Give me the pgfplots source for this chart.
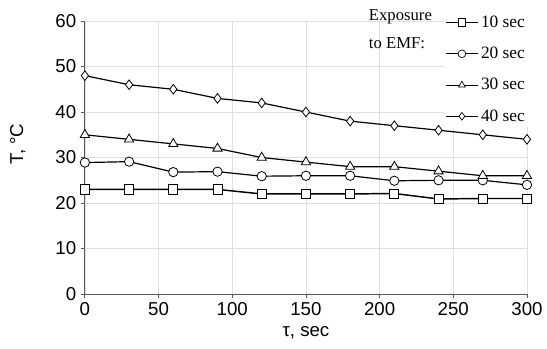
\documentclass[border=0pt]{standalone}
\usepackage{pgfplots}
\pgfplotsset{compat=1.18}
\usepackage{fontspec}
\setmainfont{Liberation Sans}
\newfontfamily\serifont{Liberation Serif}
\begin{document}
\begin{tikzpicture}
\begin{axis}[
  scale only axis,
  width=331.5pt, height=204.75pt,
  xmin=0, xmax=300, ymin=0, ymax=60,
  xtick={0,50,...,300}, ytick={0,10,...,60},
  axis x line*=bottom, axis y line*=left,
  axis line style={gray!70!black, line width=0.6pt, -},
  grid=major,
  grid style={gray!25, line width=0.5pt},
  tick style={gray!70!black, line width=0.6pt},
  tick align=outside,
  major tick length=3pt,
  ticklabel style={font=\fontsize{14}{16}\selectfont},
  /pgf/number format/assume math mode=true,
  xlabel={τ, sec},
  ylabel={T, °C},
  label style={font=\fontsize{14}{16}\selectfont},
  xlabel style={at={(rel axis cs:0.5,-0.143)}, anchor=center},
  ylabel style={at={(rel axis cs:-0.152,0.55)}, anchor=center},
  clip=false,
  legend style={
    at={(rel axis cs:0.812,1.035)}, anchor=north west,
    draw=none, fill=white,
    font=\serifont\fontsize{13}{15}\selectfont,
    row sep=9.3pt, inner sep=1pt,
    /tikz/every even column/.append style={column sep=1pt}
  },
  legend cell align=left,
  legend image code/.code={\draw[mark repeat=2,mark phase=2,mark size=2.9pt,line width=0.75pt,mark options={fill=white, solid, line width=0.5pt}] plot coordinates {(0cm,0cm)(0.42cm,0cm)(0.84cm,0cm)};},
  every axis plot/.append style={black, line width=0.9pt, mark options={fill=white, solid, line width=0.6pt}},
]
\addplot[mark=square*, mark size=3.4pt, line width=1.1pt] coordinates {
(0,23)(30,23)(60,23)(90,23)(120,22)(150,22)(180,22)(210,22.1)(240,20.9)(270,21)(300,21)};
\addlegendentry{10 sec}
\addplot[mark=*, mark size=3.5pt] coordinates {
(0,28.9)(30,29.1)(60,26.8)(90,26.9)(120,25.9)(150,26)(180,26)(210,24.9)(240,25)(270,25)(300,24)};
\addlegendentry{20 sec}
\addplot[mark=triangle*, mark size=4pt] coordinates {
(0,35)(30,34)(60,33)(90,32)(120,30)(150,29)(180,28)(210,28)(240,27)(270,26)(300,26)};
\addlegendentry{30 sec}
\addplot[mark=diamond*, mark size=3.6pt] coordinates {
(0,48)(30,46)(60,45)(90,43)(120,42)(150,40)(180,38)(210,37)(240,36)(270,35)(300,34)};
\addlegendentry{40 sec}
\node[anchor=west, align=left, font=\serifont\fontsize{12.5}{21}\selectfont, inner sep=0pt]
  at (rel axis cs:0.642,0.972) {Exposure\\to EMF:};
\path (rel axis cs:-0.192,-0.201) rectangle (rel axis cs:1.045,1.077);
\end{axis}
\end{tikzpicture}
\end{document}
